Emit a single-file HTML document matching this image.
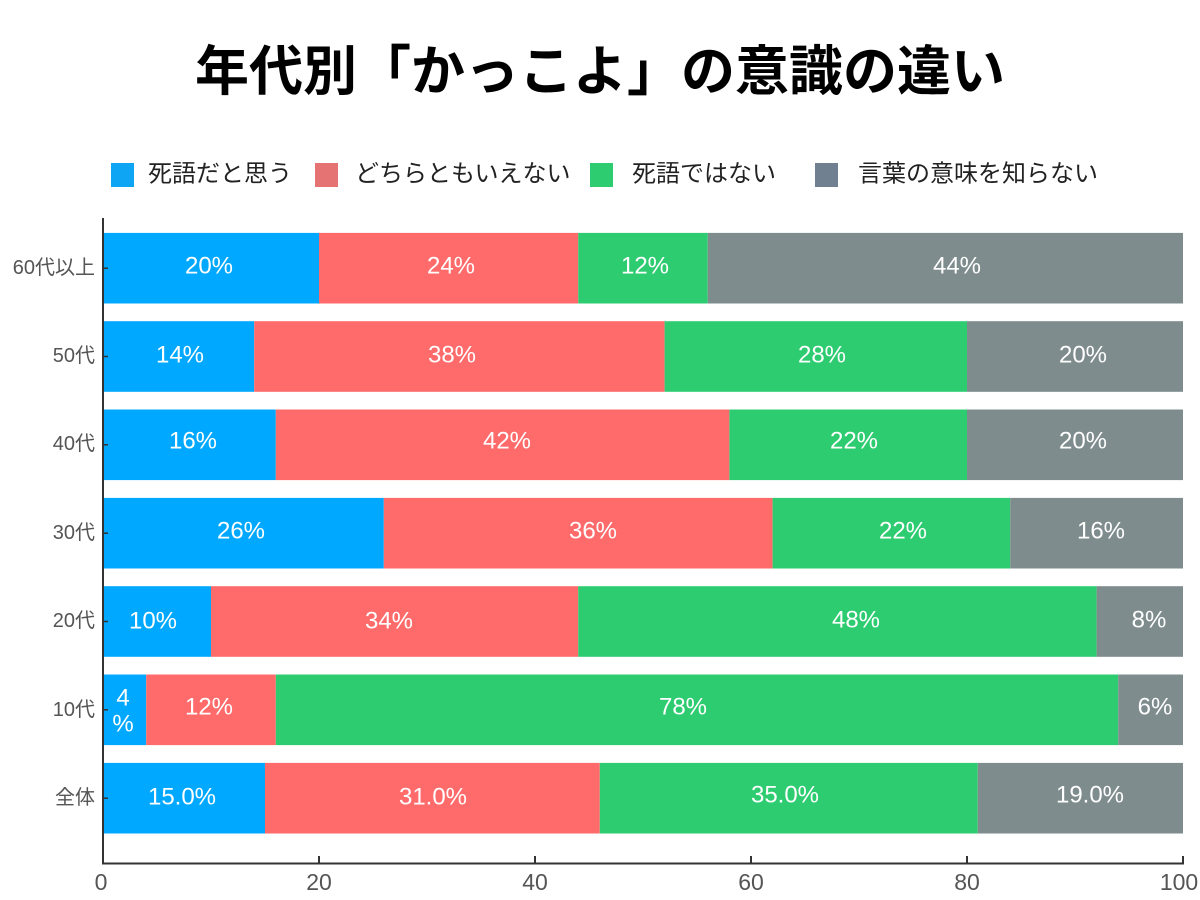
<!DOCTYPE html>
<html>
<head>
<meta charset="utf-8">
<style>
html,body{margin:0;padding:0;background:#fff;}
svg{display:block;}
text{font-family:"Liberation Sans","Noto Sans CJK JP",sans-serif;}
</style>
</head>
<body>
<svg width="1200" height="900" viewBox="0 0 1200 900" xmlns="http://www.w3.org/2000/svg">
<rect width="1200" height="900" fill="#fff"/>
<!-- Title -->
<text x="600" y="72" font-size="54" font-weight="bold" fill="#000" text-anchor="middle" dominant-baseline="central">年代別「かっこよ」の意識の違い</text>

<!-- Legend -->
<g font-size="24" fill="#222" dominant-baseline="central">
<rect x="111" y="163" width="23" height="24" fill="#0EA5F5"/>
<text x="148" y="174">死語だと思う</text>
<rect x="315" y="163" width="23" height="24" fill="#E57373"/>
<text x="355" y="174">どちらともいえない</text>
<rect x="590" y="163" width="23" height="24" fill="#2ECC71"/>
<text x="632" y="174">死語ではない</text>
<rect x="815" y="163" width="23" height="24" fill="#708090"/>
<text x="858" y="174">言葉の意味を知らない</text>
</g>

<!-- Bars -->
<g>
<rect x="103" y="232.9" width="216" height="70.6" fill="#00A8FF"/>
<rect x="319" y="232.9" width="259.2" height="70.6" fill="#FF6B6B"/>
<rect x="578.2" y="232.9" width="129.6" height="70.6" fill="#2ECC71"/>
<rect x="707.8" y="232.9" width="475.2" height="70.6" fill="#7F8C8D"/>

<rect x="103" y="321.2" width="151.2" height="70.6" fill="#00A8FF"/>
<rect x="254.2" y="321.2" width="410.4" height="70.6" fill="#FF6B6B"/>
<rect x="664.6" y="321.2" width="302.4" height="70.6" fill="#2ECC71"/>
<rect x="967" y="321.2" width="216" height="70.6" fill="#7F8C8D"/>

<rect x="103" y="409.5" width="172.8" height="70.6" fill="#00A8FF"/>
<rect x="275.8" y="409.5" width="453.6" height="70.6" fill="#FF6B6B"/>
<rect x="729.4" y="409.5" width="237.6" height="70.6" fill="#2ECC71"/>
<rect x="967" y="409.5" width="216" height="70.6" fill="#7F8C8D"/>

<rect x="103" y="497.9" width="280.8" height="70.6" fill="#00A8FF"/>
<rect x="383.8" y="497.9" width="388.8" height="70.6" fill="#FF6B6B"/>
<rect x="772.6" y="497.9" width="237.6" height="70.6" fill="#2ECC71"/>
<rect x="1010.2" y="497.9" width="172.8" height="70.6" fill="#7F8C8D"/>

<rect x="103" y="586.2" width="108" height="70.6" fill="#00A8FF"/>
<rect x="211" y="586.2" width="367.2" height="70.6" fill="#FF6B6B"/>
<rect x="578.2" y="586.2" width="518.4" height="70.6" fill="#2ECC71"/>
<rect x="1096.6" y="586.2" width="86.4" height="70.6" fill="#7F8C8D"/>

<rect x="103" y="674.5" width="43.2" height="70.6" fill="#00A8FF"/>
<rect x="146.2" y="674.5" width="129.6" height="70.6" fill="#FF6B6B"/>
<rect x="275.8" y="674.5" width="842.4" height="70.6" fill="#2ECC71"/>
<rect x="1118.2" y="674.5" width="64.8" height="70.6" fill="#7F8C8D"/>

<rect x="103" y="762.9" width="162" height="70.6" fill="#00A8FF"/>
<rect x="265" y="762.9" width="334.8" height="70.6" fill="#FF6B6B"/>
<rect x="599.8" y="762.9" width="378" height="70.6" fill="#2ECC71"/>
<rect x="977.8" y="762.9" width="205.2" height="70.6" fill="#7F8C8D"/>
</g>

<!-- Bar labels -->
<g font-size="24" fill="#fff" text-anchor="middle" dominant-baseline="central">
<text x="209" y="266">20%</text>
<text x="451" y="266">24%</text>
<text x="645" y="266">12%</text>
<text x="957" y="266">44%</text>

<text x="180" y="355">14%</text>
<text x="452" y="355">38%</text>
<text x="822" y="355">28%</text>
<text x="1083" y="355">20%</text>

<text x="193" y="441">16%</text>
<text x="507" y="441">42%</text>
<text x="854" y="441">22%</text>
<text x="1083" y="441">20%</text>

<text x="241" y="531">26%</text>
<text x="593" y="531">36%</text>
<text x="903" y="531">22%</text>
<text x="1101" y="531">16%</text>

<text x="153" y="621">10%</text>
<text x="389" y="621">34%</text>
<text x="856" y="620">48%</text>
<text x="1149" y="620">8%</text>

<text x="123" y="698">4</text>
<text x="123" y="724">%</text>
<text x="209" y="707">12%</text>
<text x="683" y="707">78%</text>
<text x="1155" y="707">6%</text>

<text x="182" y="797">15.0%</text>
<text x="433" y="797">31.0%</text>
<text x="785" y="795">35.0%</text>
<text x="1090" y="795">19.0%</text>
</g>

<!-- Axes -->
<g stroke="#333" stroke-width="2" fill="none">
<line x1="103" y1="218" x2="103" y2="864"/>
<line x1="102" y1="863.5" x2="1184" y2="863.5"/>
<line x1="103" y1="863" x2="103" y2="856"/>
<line x1="319" y1="863" x2="319" y2="856"/>
<line x1="535" y1="863" x2="535" y2="856"/>
<line x1="751" y1="863" x2="751" y2="856"/>
<line x1="967" y1="863" x2="967" y2="856"/>
<line x1="1183" y1="863" x2="1183" y2="856"/>
</g>
<g stroke="#333" stroke-width="1.5">
<line x1="103" y1="268.2" x2="108" y2="268.2"/>
<line x1="103" y1="356.5" x2="108" y2="356.5"/>
<line x1="103" y1="444.8" x2="108" y2="444.8"/>
<line x1="103" y1="533.2" x2="108" y2="533.2"/>
<line x1="103" y1="621.5" x2="108" y2="621.5"/>
<line x1="103" y1="709.8" x2="108" y2="709.8"/>
<line x1="103" y1="798.2" x2="108" y2="798.2"/>
</g>

<!-- Y labels -->
<g font-size="20" fill="#555" text-anchor="end" dominant-baseline="central">
<text x="95" y="268">60代以上</text>
<text x="95" y="356">50代</text>
<text x="95" y="444">40代</text>
<text x="95" y="533">30代</text>
<text x="95" y="621">20代</text>
<text x="95" y="710">10代</text>
<text x="95" y="798">全体</text>
</g>

<!-- X labels -->
<g font-size="23" fill="#555" text-anchor="middle" dominant-baseline="central">
<text x="101" y="882">0</text>
<text x="319" y="882">20</text>
<text x="535" y="882">40</text>
<text x="751" y="882">60</text>
<text x="967" y="882">80</text>
<text x="1179" y="882">100</text>
</g>
</svg>
</body>
</html>
